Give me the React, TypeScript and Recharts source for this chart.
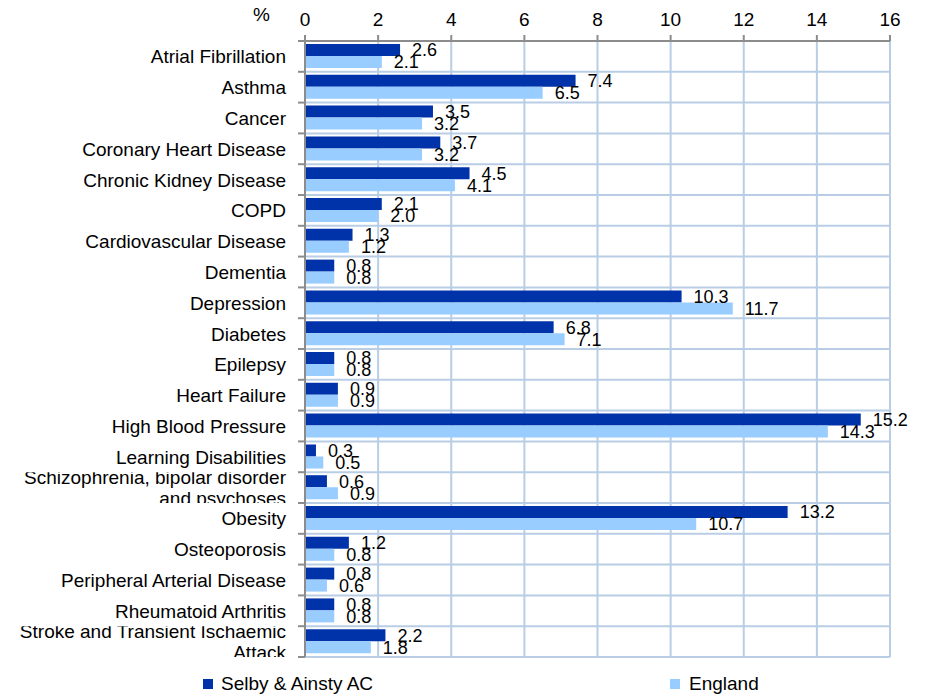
import React from 'react';
import { BarChart, Bar, XAxis, YAxis, CartesianGrid, LabelList } from 'recharts';

const conditions = [
  'Atrial Fibrillation',
  'Asthma',
  'Cancer',
  'Coronary Heart Disease',
  'Chronic Kidney Disease',
  'COPD',
  'Cardiovascular Disease',
  'Dementia',
  'Depression',
  'Diabetes',
  'Epilepsy',
  'Heart Failure',
  'High Blood Pressure',
  'Learning Disabilities',
  'Schizophrenia, bipolar disorder\nand psychoses',
  'Obesity',
  'Osteoporosis',
  'Peripheral Arterial Disease',
  'Rheumatoid Arthritis',
  'Stroke and Transient Ischaemic\nAttack',
];

const selbyValues = [2.6, 7.4, 3.5, 3.7, 4.5, 2.1, 1.3, 0.8, 10.3, 6.8, 0.8, 0.9, 15.2, 0.3, 0.6, 13.2, 1.2, 0.8, 0.8, 2.2];
const englandValues = [2.1, 6.5, 3.2, 3.2, 4.1, 2.0, 1.2, 0.8, 11.7, 7.1, 0.8, 0.9, 14.3, 0.5, 0.9, 10.7, 0.8, 0.6, 0.8, 1.8];

const xTicks = [0, 2, 4, 6, 8, 10, 12, 14, 16];

const data = conditions.map((name, i) => ({
  name,
  selby: selbyValues[i],
  england: englandValues[i],
}));

const DARK = '#0033aa';
const LIGHT = '#99ccff';
const GRID = '#b9cde5';
const AXIS = '#8c8c8c';

const PLOT_TOP = 41;
const PLOT_BOTTOM = 657;
const BAND = (PLOT_BOTTOM - PLOT_TOP) / conditions.length;

// category label, clipped to its band, plus a tick at the band's upper edge
const CategoryTick = (props: any) => {
  const { y, payload, index } = props;
  const lines = String(payload.value).split('\n');
  const top = y - BAND / 2;
  const id = `band-clip-${index}`;
  return (
    <g>
      <clipPath id={id}>
        <rect x={0} y={top} width={300} height={BAND} />
      </clipPath>
      <text
        x={286}
        y={y}
        textAnchor='end'
        fontSize={19}
        fill='#000'
        clipPath={`url(#${id})`}>
        {lines.map((line, i) => (
          <tspan key={i} x={286} dy={i === 0 ? (lines.length > 1 ? -4 : 7) : 21}>
            {line}
          </tspan>
        ))}
      </text>
      <line x1={298} x2={305} y1={top} y2={top} stroke={AXIS} strokeWidth={2} />
      {index === conditions.length - 1 && (
        <line x1={298} x2={305} y1={top + BAND} y2={top + BAND} stroke={AXIS} strokeWidth={2} />
      )}
    </g>
  );
};

const bandLines = ({ offset }: any) =>
  Array.from({ length: conditions.length + 1 }, (_, i) => offset.top + (i * offset.height) / conditions.length);

const fmt = (v: any) => Number(v).toFixed(1);

export default function App() {
  return (
    <div
      style={{
        position: 'absolute',
        left: 0,
        top: 0,
        width: 930,
        height: 695,
        background: '#fff',
        fontFamily: "'Liberation Sans', Arial, sans-serif",
      }}>
      <BarChart
        width={930}
        height={695}
        data={data}
        layout='vertical'
        barGap={0}
        margin={{ top: 11, right: 40, bottom: 38, left: 0 }}>
        <CartesianGrid
          stroke={GRID}
          strokeWidth={2}
          horizontalCoordinatesGenerator={bandLines}
        />
        <XAxis
          type='number'
          orientation='top'
          domain={[0, 16]}
          ticks={xTicks}
          height={30}
          stroke={AXIS}
          strokeWidth={2}
          tickSize={6}
          tickMargin={9}
          tick={{ fill: '#000', fontSize: 19 }}
        />
        <YAxis
          type='category'
          dataKey='name'
          width={305}
          stroke={AXIS}
          strokeWidth={2}
          tickLine={false}
          interval={0}
          tick={<CategoryTick />}
        />
        <Bar dataKey='selby' fill={DARK} barSize={12} isAnimationActive={false}>
          <LabelList dataKey='selby' position='right' offset={12} fill='#000' fontSize={18} formatter={fmt} />
        </Bar>
        <Bar dataKey='england' fill={LIGHT} barSize={12} isAnimationActive={false}>
          <LabelList dataKey='england' position='right' offset={12} fill='#000' fontSize={18} formatter={fmt} />
        </Bar>
      </BarChart>
      <div style={{ position: 'absolute', left: 253, top: 4, fontSize: 19 }}>%</div>
      <div style={{ position: 'absolute', left: 203, top: 673, fontSize: 19, display: 'flex', alignItems: 'center' }}>
        <span style={{ width: 10, height: 10, background: DARK, display: 'inline-block', marginRight: 8 }} />
        Selby &amp; Ainsty AC
      </div>
      <div style={{ position: 'absolute', left: 670, top: 673, fontSize: 19, display: 'flex', alignItems: 'center' }}>
        <span style={{ width: 10, height: 10, background: LIGHT, display: 'inline-block', marginRight: 9 }} />
        England
      </div>
    </div>
  );
}
